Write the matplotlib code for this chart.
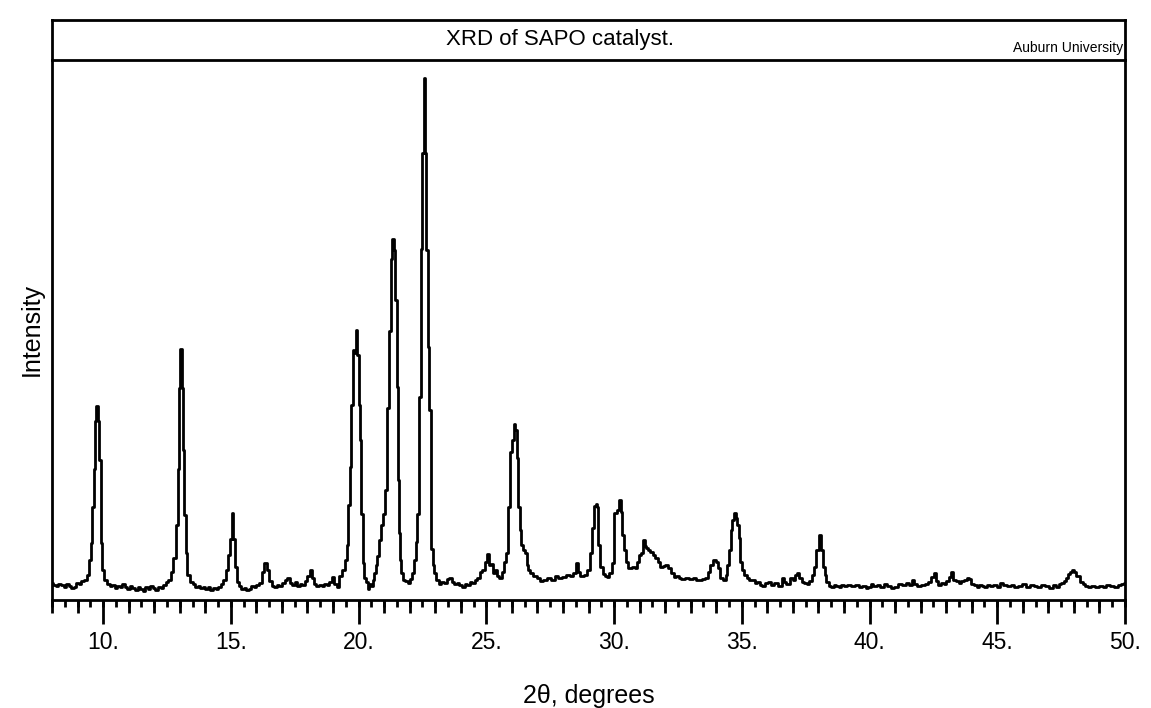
import matplotlib
matplotlib.use("Agg")
import matplotlib.pyplot as plt
from matplotlib.ticker import MultipleLocator, FormatStrFormatter

plt.rcParams['font.family'] = ['Liberation Sans', 'DejaVu Sans']

# 2-theta positions (degrees) and intensity (arbitrary units)
two_theta = [
    8.0, 8.1, 8.2, 8.3, 8.4, 8.5, 8.6, 8.7, 8.8, 8.9, 9.0, 9.1, 9.2, 9.3,
    9.4, 9.5, 9.55, 9.6, 9.65, 9.7, 9.76, 9.82, 9.88, 9.93, 10.0, 10.1,
    10.2, 10.3, 10.4, 10.5, 10.6, 10.7, 10.8, 10.9, 11.0, 11.1, 11.2, 11.3,
    11.4, 11.5, 11.6, 11.7, 11.8, 11.9, 12.0, 12.1, 12.2, 12.3, 12.4, 12.5,
    12.6, 12.7, 12.8, 12.9, 12.95, 13.0, 13.05, 13.1, 13.15, 13.2, 13.25, 13.35, 13.45,
    13.55, 13.65, 13.75, 13.85, 13.95, 14.05, 14.15, 14.25, 14.35, 14.45, 14.55, 14.65, 14.75,
    14.85, 14.95, 15.0, 15.07, 15.12, 15.2, 15.27,
    15.35, 15.45, 15.55, 15.65, 15.75, 15.85, 15.95, 16.05, 16.15,
    16.25, 16.35, 16.45, 16.55,
    16.65, 16.75, 16.85, 16.95, 17.05, 17.15, 17.25, 17.35, 17.45, 17.55, 17.65, 17.75,
    17.85, 17.95, 18.05, 18.12, 18.2, 18.3, 18.4, 18.5, 18.6, 18.7, 18.8, 18.9, 19.0,
    19.1, 19.2, 19.3, 19.4, 19.5,
    19.56, 19.62, 19.68, 19.74, 19.8, 19.87, 19.93, 19.98, 20.03, 20.08, 20.13, 20.18,
    20.25, 20.32, 20.38, 20.45, 20.52, 20.58, 20.64, 20.7, 20.76, 20.83, 20.9, 21.0,
    21.08, 21.16, 21.23, 21.29, 21.35, 21.41, 21.46, 21.51, 21.55, 21.58, 21.64, 21.69,
    21.78, 21.87, 21.96, 22.05, 22.14, 22.21, 22.27, 22.34, 22.4, 22.47, 22.53, 22.6,
    22.63, 22.68, 22.73, 22.79, 22.86, 22.93, 22.99, 23.08, 23.19,
    23.3, 23.4, 23.5, 23.6, 23.7, 23.8, 23.9, 24.0, 24.1, 24.2, 24.3, 24.4, 24.5,
    24.6, 24.7, 24.8, 24.9, 25.0, 25.08, 25.15, 25.22, 25.3, 25.38, 25.45, 25.55,
    25.65, 25.75,
    25.8, 25.9, 25.99, 26.05, 26.12, 26.16, 26.21, 26.27, 26.33, 26.38, 26.47, 26.55,
    26.6, 26.68, 26.77, 26.9, 27.03,
    27.15, 27.3, 27.45, 27.6, 27.75, 27.9, 28.05, 28.2, 28.35, 28.45, 28.54, 28.62,
    28.75, 28.9, 29.0, 29.12, 29.18, 29.25, 29.3, 29.34, 29.42, 29.51, 29.6, 29.7,
    29.76, 29.85, 29.96, 30.07, 30.17, 30.23, 30.3, 30.36, 30.42, 30.49, 30.62, 30.75,
    30.88, 30.95, 31.01, 31.12, 31.18, 31.23, 31.28, 31.37, 31.47, 31.57, 31.67, 31.77,
    31.86, 31.95, 32.05, 32.19, 32.3, 32.38, 32.48, 32.58, 32.7, 32.84, 33.0, 33.15,
    33.25, 33.36, 33.5, 33.62, 33.72, 33.82, 33.95, 34.02, 34.08, 34.21, 34.34, 34.41,
    34.47, 34.54, 34.6, 34.67, 34.73, 34.8, 34.85, 34.9, 34.99, 35.05, 35.12, 35.25,
    35.35, 35.45, 35.55, 35.65, 35.75, 35.84, 35.95, 36.1, 36.2, 36.36, 36.5, 36.62,
    36.7, 36.8, 36.95, 37.05, 37.15, 37.21, 37.3, 37.4, 37.5, 37.6, 37.7, 37.8,
    37.87, 37.96, 38.06, 38.12, 38.21, 38.27, 38.34, 38.45, 38.55, 38.65, 38.75, 38.85,
    38.95, 39.05, 39.2, 39.35, 39.5, 39.65, 39.8, 39.9, 40.0, 40.1, 40.2, 40.35,
    40.5, 40.6, 40.75, 40.9, 41.05, 41.2, 41.35, 41.5, 41.6, 41.7, 41.8, 41.95,
    42.1, 42.25, 42.35, 42.45, 42.56, 42.65, 42.75, 42.85, 42.95, 43.05, 43.15, 43.25,
    43.32, 43.45, 43.55, 43.65, 43.75, 43.85, 43.93, 44.05, 44.15, 44.25, 44.35, 44.45,
    44.55, 44.65, 44.75, 44.9, 45.05, 45.15, 45.3, 45.45, 45.6, 45.75, 45.9, 46.05,
    46.2, 46.35, 46.5, 46.65, 46.8, 46.95, 47.1, 47.25, 47.35, 47.45, 47.55, 47.65,
    47.72, 47.8, 47.9, 47.98, 48.05, 48.15, 48.3, 48.4, 48.5, 48.6, 48.75, 48.9,
    49.05, 49.2, 49.35, 49.5, 49.65, 49.8, 49.9, 50.0,
]

intensity = [
    17, 15, 14, 16, 15, 13, 16, 14, 12, 13, 17, 16, 19, 20,
    25, 40, 57, 93, 131, 179, 194, 179, 140, 57, 30, 20,
    16, 14, 15, 12, 14, 13, 16, 13, 11, 14, 12, 10,
    13, 11, 9, 13, 11, 14, 12, 10, 13, 12, 15, 18,
    20, 28, 42, 75, 131, 212, 251, 212, 150, 85, 47, 25, 18,
    16, 13, 14, 12, 13, 11, 13, 10, 12, 11, 13, 16, 20,
    30, 45, 61, 87, 61, 33, 18,
    14, 11, 12, 10, 11, 14, 13, 15, 17,
    28, 37, 30, 19,
    14, 13, 15, 14, 17, 20, 22, 17, 15, 18, 14, 16,
    15, 19, 24, 30, 22, 16, 14, 15, 14, 16, 15, 18, 23,
    16, 13, 24, 30, 40,
    55, 95, 133, 195, 250, 247, 270, 245, 195, 160, 86, 37,
    22, 18, 11, 16, 14, 20, 27, 35, 44, 60, 75, 86,
    110, 192, 269, 341, 361, 350, 300, 213, 120, 67, 40, 27,
    20, 19, 17, 21, 27, 40, 58, 86, 203, 351, 447, 522,
    447, 350, 253, 190, 51, 35, 27, 20, 16,
    18, 17, 21, 22, 18, 16, 17, 15, 13, 16, 15, 18, 17,
    20, 22, 28, 30, 38, 46, 35, 36, 27, 30, 24, 22,
    28, 38,
    47, 93, 148, 160, 176, 170, 142, 93, 70, 55, 50, 47,
    35, 30, 27, 24, 22,
    19, 20, 22, 20, 24, 22, 23, 25, 24, 27, 37, 28,
    24, 25, 30, 47, 72, 94, 96, 93, 55, 33, 26, 24,
    23, 27, 37, 87, 90, 100, 88, 65, 50, 38, 32, 33,
    32, 38, 45, 47, 60, 54, 52, 50, 48, 45, 42, 38,
    33, 34, 35, 32, 27, 23, 24, 22, 21, 22, 21, 22,
    20, 20, 21, 22, 28, 35, 40, 38, 32, 22, 20, 25,
    35, 50, 70, 80, 87, 82, 75, 62, 38, 30, 25, 22,
    20, 20, 17, 18, 15, 14, 17, 18, 15, 17, 14, 22,
    18, 16, 22, 20, 25, 27, 22, 18, 17, 16, 19, 25,
    33, 50, 65, 50, 33, 25, 18, 14, 13, 15, 14, 13,
    15, 14, 15, 14, 15, 13, 14, 12, 13, 16, 14, 15,
    13, 16, 14, 12, 13, 16, 15, 17, 15, 20, 16, 14,
    15, 16, 18, 23, 27, 19, 15, 17, 16, 19, 23, 28,
    20, 19, 17, 19, 20, 22, 21, 16, 15, 13, 15, 14,
    13, 15, 14, 15, 13, 17, 15, 14, 15, 13, 14, 16,
    13, 15, 14, 13, 15, 14, 12, 15, 13, 16, 17, 19,
    22, 26, 28, 30, 28, 24, 18, 16, 14, 13, 14, 13,
    14, 13, 15, 14, 13, 15, 16, 17,
]

fig = plt.figure(figsize=(11.51, 7.08), dpi=100)

# main plot area
ax = fig.add_axes([0.0452, 0.1525, 0.9322, 0.7628])
ax.plot(two_theta, intensity, color='black', linewidth=2, drawstyle='steps-mid')
ax.set_xlim(8, 50)
ax.set_ylim(0, 540)

for side in ['left', 'right', 'bottom']:
    ax.spines[side].set_linewidth(2)
ax.spines['top'].set_visible(False)

ax.set_yticks([])
ax.xaxis.set_major_locator(MultipleLocator(5))
ax.xaxis.set_major_formatter(FormatStrFormatter('%d.'))
ax.xaxis.set_minor_locator(MultipleLocator(1))
ax.tick_params(axis='x', which='major', direction='out', length=17, width=2,
               labelsize=16.5, pad=5)
ax.tick_params(axis='x', which='minor', direction='out', length=9, width=2)

# half-degree ticks on a second bottom axis
sec = ax.secondary_xaxis('bottom')
sec.spines['bottom'].set_visible(False)
sec.xaxis.set_major_locator(MultipleLocator(0.5))
sec.tick_params(axis='x', which='major', direction='out', length=5, width=2,
                labelbottom=False)

ax.set_xlabel('2\u03b8, degrees', fontsize=18, labelpad=22)
ax.set_ylabel('Intensity', fontsize=18, labelpad=6)

# title box above the plot
tax = fig.add_axes([0.0452, 0.9153, 0.9322, 0.0565])
tax.set_xticks([])
tax.set_yticks([])
for side in ['left', 'right', 'top', 'bottom']:
    tax.spines[side].set_linewidth(2)
tax.text(0.473, 0.52, 'XRD of SAPO catalyst.', transform=tax.transAxes,
         ha='center', va='center', fontsize=16)
tax.text(0.998, 0.3, 'Auburn University', transform=tax.transAxes,
         ha='right', va='center', fontsize=10)

fig.savefig('out.png', dpi=100)
